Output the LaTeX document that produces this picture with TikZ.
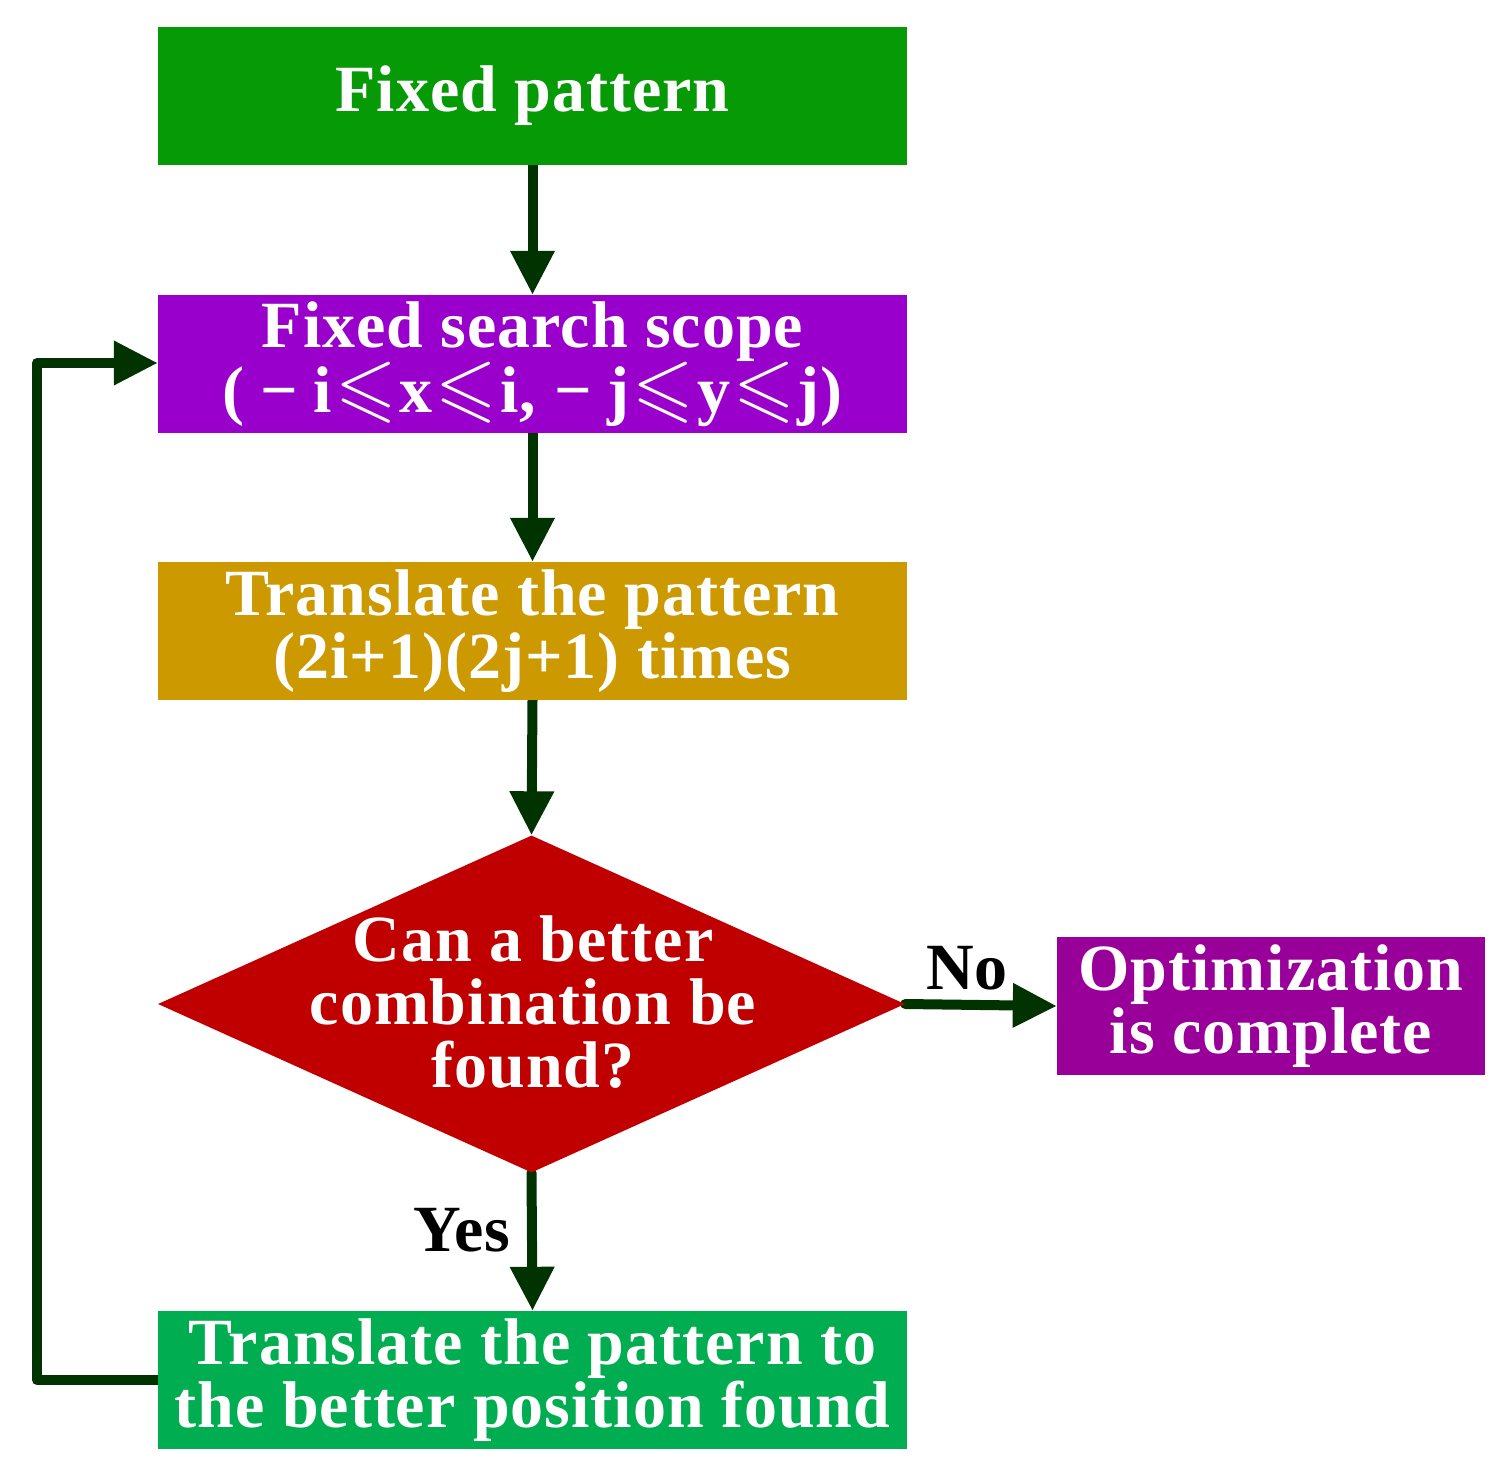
\documentclass[tikz,border=0pt]{standalone}
\usepackage{amssymb}
\usepackage{graphicx}
\usepackage{fontspec}
\setmainfont{Liberation Serif}[LetterSpace=1.5]
\usetikzlibrary{shapes.geometric,arrows.meta,backgrounds}
\definecolor{cgreenA}{HTML}{069A06}
\definecolor{cpurpleA}{HTML}{9900CC}
\definecolor{cgold}{HTML}{CC9900}
\definecolor{cred}{HTML}{C00000}
\definecolor{cpurpleB}{HTML}{990099}
\definecolor{cgreenB}{HTML}{00AD50}
\definecolor{carrow}{HTML}{003300}
\newcommand{\myleq}{\hspace{3pt}\scalebox{1.2}{$\leqslant$}\hspace{3pt}}
\begin{document}
\begin{tikzpicture}[x=1pt,y=-1pt,
  box/.style={rectangle,draw=none,minimum width=749pt,minimum height=138pt,inner sep=0pt,
    text=white,align=center,font=\fontsize{66}{63}\selectfont\bfseries},
  lbl/.style={text=black,font=\fontsize{66}{63}\selectfont\bfseries,inner sep=0pt},
  flow/.style={draw=carrow,line width=10pt,line cap=round,-{Triangle[length=44pt,width=42pt]}}
]
\useasboundingbox (0,0) rectangle (1510,1477);
\node[box,fill=cgreenA] (b1) at (532.5,96) {Fixed pattern};
\node[box,fill=cpurpleA] (b2) at (532.5,364) {Fixed search scope\\(\hspace{16pt}−\hspace{16pt}i\myleq x\myleq i,\hspace{18pt}−\hspace{16pt}j\myleq y\myleq j)};
\node[box,fill=cgold] (b3) at (532.5,631) {Translate the pattern\\(2i+1)(2j+1) times};
\node[diamond,fill=cred,draw=none,minimum width=747pt,minimum height=337pt,inner sep=0pt,aspect=2.2] (d) at (531.5,1004) {};
\node[box,fill=none,minimum width=0pt,minimum height=0pt] (dt) at (533,1002) {Can a better\\combination be\\found?};
\node[box,fill=cpurpleB,minimum width=428pt] (opt) at (1271,1006) {Optimization\\is complete};
\node[box,fill=cgreenB] (b5) at (532.5,1380) {Translate the pattern to\\the better position found};
\node[lbl] (no) at (967,968) {No};
\node[lbl] (yes) at (462,1230) {Yes};
\coordinate (lb) at (37,1380);
\coordinate (lt) at (37,363);
\begin{pgfonlayer}{background}
\draw[flow] (b1.south) -- (b2.north);
\draw[flow] (b2.south) -- (b3.north);
\draw[flow] (b3.south) -- (d.north);
\draw[flow] (d.east) -- (opt.west);
\draw[flow] (d.south) -- (b5.north);
\draw[flow,line join=round] (b5.west) -- (lb) -- (lt) -- (b2.west |- lt);
\end{pgfonlayer}
\end{tikzpicture}
\end{document}
